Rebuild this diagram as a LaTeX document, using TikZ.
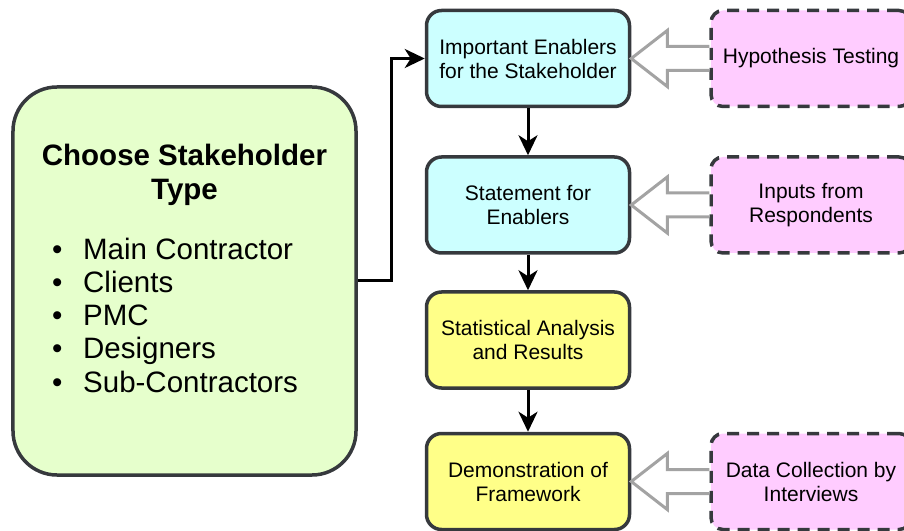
\documentclass[tikz,border=0pt]{standalone}
\usepackage{fontspec}
\setmainfont{Liberation Sans}
\usetikzlibrary{arrows.meta,calc,positioning}

\definecolor{boxline}{HTML}{36393D}
\definecolor{cyanfill}{HTML}{CCFFFF}
\definecolor{yellowfill}{HTML}{FFFF88}
\definecolor{greenfill}{HTML}{E6FFCC}
\definecolor{pinkfill}{HTML}{FFCCFF}
\definecolor{arrowgray}{HTML}{A3A3A3}

\tikzset{
  stepbox/.style={draw=boxline, line width=3.5bp, rounded corners=15bp,
    minimum width=203bp, minimum height=96bp, inner sep=0pt, align=center,
    font=\fontsize{21bp}{24bp}\selectfont},
  inputbox/.style={stepbox, fill=pinkfill, dash pattern=on 12bp off 8bp,
    rounded corners=12bp, minimum width=200bp},
  flow/.style={line width=3bp, -{Stealth[length=20bp,width=19bp,inset=6bp]}},
  blockarrow/.style={draw=arrowgray, fill=white, line width=3bp},
}

\begin{document}
\begin{tikzpicture}[x=1bp, y=-1bp]
  \useasboundingbox (0,0) rectangle (904,531);
  \clip (0,0) rectangle (904,531);

  % stakeholder box
  \node[draw=boxline, fill=greenfill, line width=3.5bp, rounded corners=44bp,
    minimum width=343bp, minimum height=388bp] (stake) at (184.5,281) {};
  \node[font=\fontsize{29.5bp}{34bp}\selectfont\bfseries, align=center,
    inner sep=0pt, anchor=north] (title) at (184.5,143.5) {Choose Stakeholder\\Type};

  \foreach \kind [count=\i] in {Main Contractor, Clients, PMC, Designers, Sub-Contractors}
    \node[font=\fontsize{29.5bp}{33bp}\selectfont, inner sep=0pt, anchor=base west]
      (kind\i) at (52, 227+33*\i) {\makebox[31bp][l]{\textbullet}\kind};

  % main steps
  \node[stepbox, fill=cyanfill] (imp) at (528,58.5) {Important Enablers\\for the Stakeholder};
  \node[stepbox, fill=cyanfill] (stm) at (528,205) {Statement for\\Enablers};
  \node[stepbox, fill=yellowfill] (sta) at (528,340) {Statistical Analysis\\and Results};
  \node[stepbox, fill=yellowfill] (demo) at (528,481.5) {Demonstration of\\Framework};

  % inputs
  \node[inputbox] (hyp) at (811,58.5) {Hypothesis Testing};
  \node[inputbox] (inp) at (811,205) {Inputs from\\Respondents};
  \node[inputbox] (dat) at (811,481.5) {Data Collection by\\Interviews};

  \draw[flow] (stake.east) -- ++(34,0) |- (imp.west);
  \draw[flow] (imp.south) -- (stm.north);
  \draw[flow] (stm.south) -- (sta.north);
  \draw[flow] (sta.south) -- (demo.north);

  \foreach \src/\dst in {hyp/imp, inp/stm, dat/demo}
    \draw[blockarrow] ($(\src.west)+(0,-12)$) -- ($(\dst.east)+(36,-12)$) -- ++(0,-16)
      -- (\dst.east) -- ++(36,28) -- ++(0,-16) -- ($(\src.west)+(0,12)$);

\end{tikzpicture}
\end{document}
